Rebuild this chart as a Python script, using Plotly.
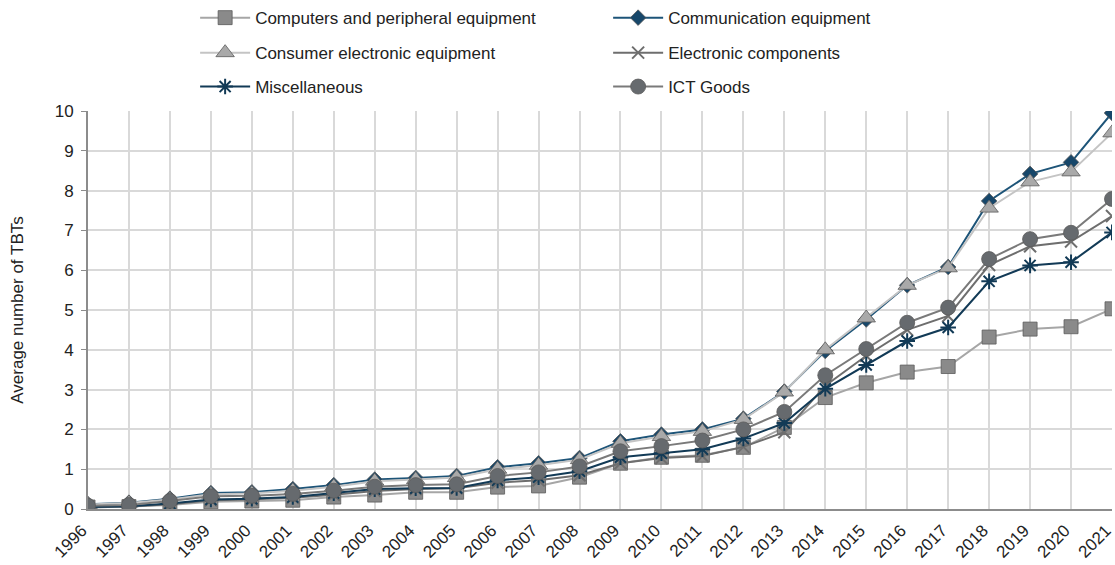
import plotly.graph_objects as go

years = list(range(1996, 2022))

computers = [0.05, 0.06, 0.1, 0.18, 0.2, 0.22, 0.3, 0.35, 0.42, 0.42, 0.55, 0.58, 0.8, 1.15, 1.3, 1.35,
             1.55, 2.05, 2.8, 3.17, 3.44, 3.58, 4.32, 4.52, 4.58, 5.03]
communication = [0.12, 0.16, 0.26, 0.4, 0.42, 0.5, 0.6, 0.74, 0.78, 0.83, 1.05, 1.15, 1.28, 1.7, 1.87, 2.0,
                 2.27, 2.95, 3.97, 4.76, 5.62, 6.08, 7.74, 8.42, 8.71, 9.95]
consumer = [0.11, 0.15, 0.24, 0.37, 0.39, 0.46, 0.56, 0.7, 0.74, 0.79, 1.0, 1.1, 1.24, 1.65, 1.82, 1.95,
            2.25, 2.94, 4.0, 4.8, 5.62, 6.06, 7.56, 8.22, 8.47, 9.45]
electronic = [0.04, 0.06, 0.12, 0.22, 0.24, 0.28, 0.36, 0.45, 0.5, 0.52, 0.66, 0.72, 0.85, 1.15, 1.28, 1.33,
              1.56, 1.93, 3.1, 3.85, 4.5, 4.85, 6.13, 6.6, 6.72, 7.36]
misc = [0.05, 0.07, 0.14, 0.24, 0.26, 0.3, 0.4, 0.5, 0.52, 0.53, 0.72, 0.8, 0.95, 1.3, 1.4, 1.5,
        1.77, 2.16, 3.02, 3.62, 4.22, 4.56, 5.72, 6.12, 6.2, 6.95]
ict = [0.08, 0.1, 0.2, 0.32, 0.33, 0.38, 0.46, 0.56, 0.6, 0.62, 0.83, 0.92, 1.07, 1.45, 1.58, 1.72,
       2.0, 2.44, 3.36, 4.02, 4.68, 5.06, 6.28, 6.78, 6.94, 7.79]

series = [
    ("Computers and peripheral equipment", computers, "#a6a6a6", "#8a8a8a", "square", 14, "legend"),
    ("Communication equipment", communication, "#1d5478", "#17476a", "diamond", 12, "legend"),
    ("Consumer electronic equipment", consumer, "#c4c4c4", "#a9a9a9", "triangle-up", 16, "legend2"),
    ("Electronic components", electronic, "#6e6e6e", "#6e6e6e", "x-thin-open", 12, "legend2"),
    ("Miscellaneous", misc, "#123a56", "#123a56", "asterisk-open", 13, "legend3"),
    ("ICT Goods", ict, "#7a7a7a", "#666a6e", "circle", 15, "legend3"),
]

fig = go.Figure()

for name, vals, lcol, mcol, sym, size, leg in series:
    open_sym = sym.endswith("open")
    fig.add_trace(go.Scatter(
        x=years, y=vals, mode='lines+markers', name=name, legend=leg,
        line=dict(color=lcol, width=2),
        marker=dict(symbol=sym, size=size, color=mcol,
                    line=dict(color=mcol if open_sym else '#5a5a5a', width=2 if open_sym else 0.8))
    ))

legend_style = dict(orientation='h', xanchor='left', yanchor='middle',
                    xref='container', yref='container',
                    entrywidth=348, entrywidthmode='pixels',
                    font=dict(family='Liberation Sans, Arial', size=17, color='#222222'),
                    bgcolor='rgba(0,0,0,0)', itemwidth=50)

fig.update_layout(
    width=1115, height=565,
    margin=dict(l=88, r=3, t=111, b=56),
    plot_bgcolor='white',
    paper_bgcolor='white',
    font=dict(family='Liberation Sans, Arial', size=17, color='#222222'),
    legend=dict(x=0.175, y=0.968, **legend_style),
    legend2=dict(x=0.175, y=0.906, **legend_style),
    legend3=dict(x=0.175, y=0.846, **legend_style),
    xaxis=dict(range=[1996, 2021], tickmode='array', tickvals=years, ticktext=[str(y) for y in years],
               tickangle=-45, showgrid=True, gridcolor='#d9d9d9', gridwidth=2,
               showline=True, linecolor='#8c8c8c', linewidth=2, zeroline=False,
               ticklabeloverflow='allow', ticklabelshift=-6, ticklabelstandoff=3,
               tickfont=dict(size=17, color='#222222'), automargin=False),
    yaxis=dict(range=[0, 10], dtick=1, showgrid=True, gridcolor='#d9d9d9', gridwidth=2,
               showline=True, linecolor='#8c8c8c', linewidth=2, zeroline=False,
               ticks='outside', ticklen=5, tickcolor='#8c8c8c', ticklabelstandoff=4,
               tickfont=dict(size=17, color='#222222'), automargin=False,
               title=dict(text='Average number of TBTs', font=dict(size=17, color='#222222'), standoff=27)),
)

fig.write_html("out.html", config={'displayModeBar': False},
               post_script="document.body.style.margin='0';")
